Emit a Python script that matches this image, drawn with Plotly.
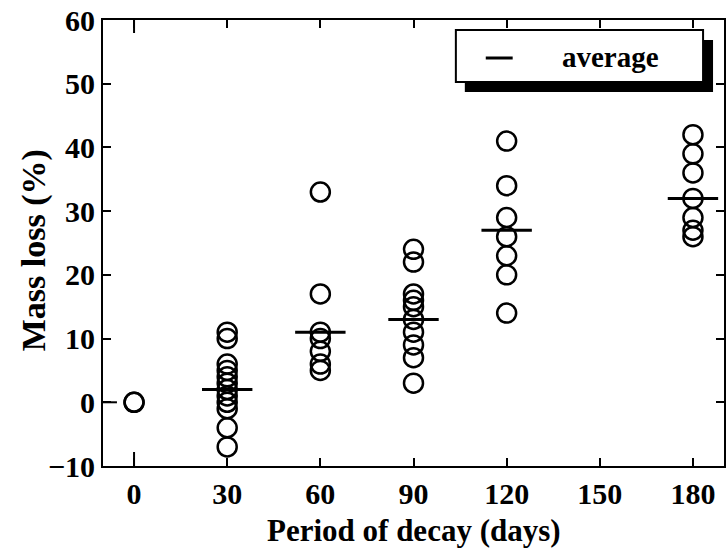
import plotly.graph_objects as go

# Decay period (days) and individual mass-loss measurements (%)
days = [0, 30, 60, 90, 120, 180]
mass_loss = {
    0: [0, 0],
    30: [11, 10, 6, 5, 4, 3, 2, 1, 0, -1, -4, -7],
    60: [33, 17, 11, 10, 8, 6, 5],
    90: [24, 22, 17, 16, 15, 13, 11, 9, 7, 3],
    120: [41, 34, 29, 26, 23, 20, 14],
    180: [42, 39, 36, 32, 29, 27, 26],
}
avg_days = [30, 60, 90, 120, 180]
avg_loss = [2, 11, 13, 27, 32]

x_ticks = [0, 30, 60, 90, 120, 150, 180]
y_ticks = [-10, 0, 10, 20, 30, 40, 50, 60]

FONT = "Liberation Serif"

xs, ys = [], []
for d in days:
    for v in mass_loss[d]:
        xs.append(d)
        ys.append(v)

fig = go.Figure()
fig.add_trace(go.Scatter(
    x=xs, y=ys, mode="markers", showlegend=False,
    marker=dict(symbol="circle-open", size=19, color="black",
                line=dict(width=2.5, color="black")),
))
fig.add_trace(go.Scatter(
    x=avg_days, y=avg_loss, mode="markers", showlegend=False,
    marker=dict(symbol="line-ew", size=36, color="black",
                line=dict(width=3, color="black")),
))

axis_common = dict(
    showline=True, linecolor="black", linewidth=2, mirror="ticks",
    ticks="inside", ticklen=8, tickwidth=2, tickcolor="black",
    showgrid=False, zeroline=False,
    tickfont=dict(family=FONT, size=30, color="black"),
)

fig.update_layout(
    width=728, height=550,
    margin=dict(l=103, r=2, t=20, b=84),
    plot_bgcolor="white", paper_bgcolor="white",
    font=dict(family=FONT, color="black"),
    xaxis=dict(range=[-10, 190], tickvals=x_ticks,
               ticktext=[f"<b>{t}</b>" for t in x_ticks],
               **axis_common),
    yaxis=dict(range=[-10, 60], tickvals=y_ticks,
               ticktext=[f"<b>{'−' if t < 0 else ''}{abs(t)}</b>" for t in y_ticks],
               **axis_common),
)

# Pixel helpers for the 623x446 plotting area
W, H = 623.0, 446.0
def px(x):
    return (x - 103) / W
def py(y):
    return 1 - (y - 20) / H

# Axis titles
fig.add_annotation(xref="paper", yref="paper", x=px(415), y=py(530),
                   text="<b>Period of decay (days)</b>", showarrow=False,
                   font=dict(family=FONT, size=31, color="black"),
                   xanchor="center", yanchor="middle")
fig.add_annotation(xref="paper", yref="paper", x=px(34), y=py(250),
                   text="<b>Mass loss (%)</b>", showarrow=False, textangle=-90,
                   font=dict(family=FONT, size=34, color="black"),
                   xanchor="center", yanchor="middle")

# Longer ticks marking the origin on the bottom, top and left axes
fig.add_shape(type="line", xref="x", yref="paper", x0=0, x1=0, y0=0, y1=14 / H,
              line=dict(color="black", width=2))
fig.add_shape(type="line", xref="x", yref="paper", x0=0, x1=0, y0=1, y1=1 - 13 / H,
              line=dict(color="black", width=2))
fig.add_shape(type="line", xref="paper", yref="y", x0=0, x1=14 / W, y0=0, y1=0,
              line=dict(color="black", width=2))

# Legend box with drop shadow
fig.add_shape(type="rect", xref="paper", yref="paper",
              x0=px(466), x1=px(715), y0=py(92), y1=py(40),
              fillcolor="black", line=dict(width=0), layer="above")
fig.add_shape(type="rect", xref="paper", yref="paper",
              x0=px(457), x1=px(705), y0=py(82), y1=py(30),
              fillcolor="white", line=dict(color="black", width=2), layer="above")
fig.add_shape(type="line", xref="paper", yref="paper",
              x0=px(487), x1=px(514), y0=py(58), y1=py(58),
              line=dict(color="black", width=3), layer="above")
fig.add_annotation(xref="paper", yref="paper", x=px(612), y=py(57),
                   text="<b>average</b>", showarrow=False,
                   font=dict(family=FONT, size=29, color="black"),
                   xanchor="center", yanchor="middle")

fig.write_html("out.html")
